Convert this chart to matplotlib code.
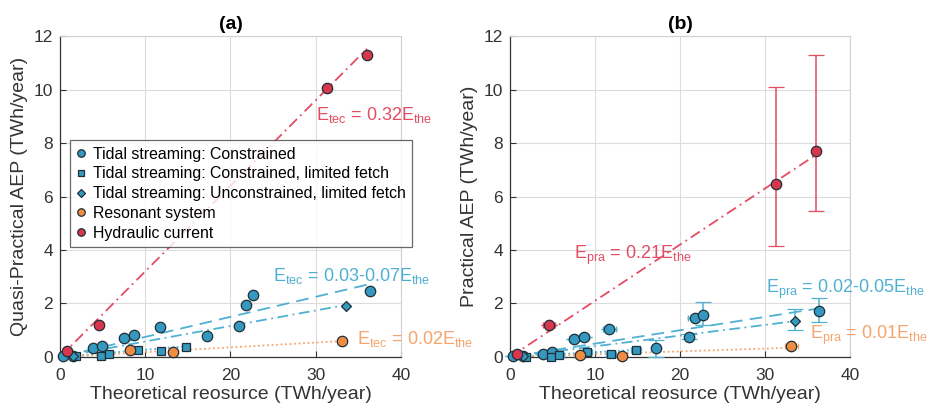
import matplotlib
matplotlib.use("Agg")
import matplotlib.pyplot as plt
import numpy as np

plt.rcParams['font.family'] = ['Liberation Sans', 'DejaVu Sans']
plt.rcParams['mathtext.fontset'] = 'custom'
plt.rcParams['mathtext.rm'] = 'Liberation Sans'
plt.rcParams['mathtext.it'] = 'Liberation Sans:italic'

# ---------------- data ----------------
circ_x = [0.4, 1.5, 3.9, 4.9, 7.5, 8.7, 11.7, 17.2, 21.0, 21.8, 22.7, 36.4]
circ_a = [0.05, 0.05, 0.33, 0.42, 0.70, 0.82, 1.12, 0.77, 1.15, 1.96, 2.32, 2.45]
circ_b = [0.04, 0.02, 0.13, 0.20, 0.67, 0.75, 1.03, 0.32, 0.76, 1.45, 1.57, 1.71]
circ_b_ylo = [0.0, 0.0, 0.0, 0.0, 0.0, 0.0, 0.0, 0.32, 0.1, 0.0, 0.38, 0.41]
circ_b_yhi = [0.0, 0.0, 0.0, 0.0, 0.0, 0.0, 0.0, 0.33, 0.1, 0.0, 0.48, 0.49]
circ_b_xerr = [0.3, 0.3, 0.6, 0.6, 0.6, 0.6, 0.8, 0.0, 0.0, 0.9, 0.0, 0.0]

sq_x = [1.9, 4.8, 5.8, 9.1, 11.9, 14.8]
sq_a = [0.02, 0.02, 0.10, 0.25, 0.21, 0.37]
sq_b = [0.01, 0.00, 0.08, 0.17, 0.13, 0.26]
sq_b_xerr = [0.3, 0.4, 0.5, 0.6, 0.6, 0.6]

dia_x = [1.5, 33.5]
dia_a = [0.03, 1.92]
dia_b = [0.02, 1.36]
dia_b_ylo = [0.0, 0.36]
dia_b_yhi = [0.0, 0.42]

res_x = [8.2, 13.2, 33.1]
res_a = [0.25, 0.20, 0.60]
res_b = [0.07, 0.02, 0.40]
res_b_xerr = [0.5, 0.5, 0.8]

hyd_x = [0.8, 4.6, 31.3, 36.0]
hyd_a = [0.22, 1.20, 10.05, 11.30]
hyd_b = [0.12, 1.18, 6.45, 7.70]
hyd_b_ylo = [0.0, 0.0, 2.30, 2.25]
hyd_b_yhi = [0.0, 0.0, 3.65, 3.60]
hyd_b_xerr = [0.3, 0.7, 0.0, 0.0]

# fit lines: (x_start, x_end, slope)
fits_a = {'hyd': (0.0, 36.0, 0.32), 'dash': (0.5, 36.3, 0.075),
          'dashdot': (0.5, 33.5, 0.058), 'dot': (0.5, 14.8, 0.027),
          'res': (0.5, 33.1, 0.018)}
fits_b = {'hyd': (0.0, 36.0, 0.21), 'dash': (0.5, 36.3, 0.050),
          'dashdot': (0.5, 33.6, 0.040), 'dot': (0.5, 14.8, 0.018),
          'res': (0.5, 33.1, 0.0105)}

legend_labels = ['Tidal streaming: Constrained',
                 'Tidal streaming: Constrained, limited fetch',
                 'Tidal streaming: Unconstrained, limited fetch',
                 'Resonant system', 'Hydraulic current']

# ---------------- style ----------------
C_CY = '#3599bf'
C_OR = '#f08c42'
C_RD = '#d8364c'
L_CY = '#4fb0d2'
L_OR = '#f6a46c'
L_RD = '#e44c64'
EDGE = '#1f2f38'

fig = plt.figure(figsize=(9.29, 4.13), dpi=100)
axA = fig.add_axes([0.0646, 0.1356, 0.367, 0.7772])
axB = fig.add_axes([0.549, 0.1356, 0.366, 0.7772])


def fit_line(ax, f, key, color, ls, lw=1.3):
    x0, x1, s = f[key]
    xs = np.array([x0, x1])
    ax.plot(xs, s * xs, color=color, ls=ls, lw=lw, zorder=2)


def style(ax, title, ylabel):
    ax.set_xlim(0, 40)
    ax.set_ylim(0, 12)
    ax.set_xticks([0, 10, 20, 30, 40])
    ax.set_yticks([0, 2, 4, 6, 8, 10, 12])
    ax.grid(True, color='#dcdcdc', lw=0.8, zorder=0)
    ax.set_axisbelow(True)
    for s in ['top', 'right']:
        ax.spines[s].set_color('#d0d0d0')
    for s in ['left', 'bottom']:
        ax.spines[s].set_color('#333333')
        ax.spines[s].set_linewidth(0.9)
    ax.tick_params(direction='in', length=4, labelsize=12.5, colors='#333333',
                   top=False, right=False)
    ax.tick_params(axis='x', pad=8)
    ax.tick_params(axis='y', pad=5)
    ax.set_title(title, fontsize=14, fontweight='bold', pad=5)
    ax.set_xlabel('Theoretical reosurce (TWh/year)', fontsize=14, color='#333333', labelpad=2)
    ax.set_ylabel(ylabel, fontsize=14, color='#333333', labelpad=4)


ms_c = 7.5
ms_s = 5.5
ms_d = 7

# ---------- panel (a) ----------
fit_line(axA, fits_a, 'hyd', L_RD, (0, (6, 2.5, 1, 2.5)))
fit_line(axA, fits_a, 'dash', L_CY, (0, (7, 4)))
fit_line(axA, fits_a, 'dashdot', L_CY, (0, (6, 2.5, 1, 2.5)))
fit_line(axA, fits_a, 'dot', L_CY, (0, (1, 1.5)))
fit_line(axA, fits_a, 'res', L_OR, (0, (1, 1.5)))

h1, = axA.plot(circ_x, circ_a, 'o', ms=ms_c, mfc=C_CY, mec=EDGE, mew=0.9, ls='none', zorder=4)
h2, = axA.plot(sq_x, sq_a, 's', ms=ms_s, mfc=C_CY, mec=EDGE, mew=0.9, ls='none', zorder=4)
h3, = axA.plot(dia_x, dia_a, 'D', ms=ms_d * 0.75, mfc=C_CY, mec=EDGE, mew=0.9, ls='none', zorder=4)
h4, = axA.plot(res_x, res_a, 'o', ms=ms_c, mfc=C_OR, mec=EDGE, mew=0.9, ls='none', zorder=4)
h5, = axA.plot(hyd_x, hyd_a, 'o', ms=ms_c, mfc=C_RD, mec=EDGE, mew=0.9, ls='none', zorder=4)

axA.text(30.0, 8.85, r'E$_{\mathrm{tec}}$ = 0.32E$_{\mathrm{the}}$', color=L_RD,
         fontsize=13, clip_on=False, zorder=5)
axA.text(25.0, 2.85, r'E$_{\mathrm{tec}}$ = 0.03-0.07E$_{\mathrm{the}}$', color=L_CY,
         fontsize=13, clip_on=False, zorder=5)
axA.text(34.9, 0.50, r'E$_{\mathrm{tec}}$ = 0.02E$_{\mathrm{the}}$', color=L_OR,
         fontsize=13, clip_on=False, zorder=5)

leg = axA.legend([h1, h2, h3, h4, h5], legend_labels, loc='upper left',
                 bbox_to_anchor=(0.03, 0.675, 1.005, 0.0),
                 fontsize=11.4, frameon=True, fancybox=False, handlelength=0.6,
                 handletextpad=0.45, borderpad=0.4, labelspacing=0.3,
                 markerscale=0.72, borderaxespad=0)
leg.get_frame().set_edgecolor('#444444')
leg.get_frame().set_linewidth(0.9)
leg.set_zorder(10)
style(axA, '(a)', 'Quasi-Practical AEP (TWh/year)')

# ---------- panel (b) ----------
fit_line(axB, fits_b, 'hyd', L_RD, (0, (6, 2.5, 1, 2.5)))
fit_line(axB, fits_b, 'dash', L_CY, (0, (7, 4)))
fit_line(axB, fits_b, 'dashdot', L_CY, (0, (6, 2.5, 1, 2.5)))
fit_line(axB, fits_b, 'dot', L_CY, (0, (1, 1.5)))
fit_line(axB, fits_b, 'res', L_OR, (0, (1, 1.5)))

ekw = dict(ls='none', capsize=6, elinewidth=1.1, capthick=1.1, zorder=3)
hkw = dict(ls='none', capsize=2, elinewidth=1.0, capthick=1.0, zorder=3)
axB.errorbar(circ_x, circ_b, xerr=circ_b_xerr, fmt='none', ecolor=L_CY, **hkw)
axB.errorbar(circ_x, circ_b, yerr=[circ_b_ylo, circ_b_yhi],
             fmt='o', ms=ms_c, mfc=C_CY, mec=EDGE, mew=0.9, ecolor=L_CY, **ekw)
axB.errorbar(sq_x, sq_b, xerr=sq_b_xerr, fmt='s', ms=ms_s, mfc=C_CY, mec=EDGE,
             mew=0.9, ecolor=L_CY, **hkw)
axB.errorbar(dia_x, dia_b, yerr=[dia_b_ylo, dia_b_yhi], fmt='D', ms=ms_d * 0.75,
             mfc=C_CY, mec=EDGE, mew=0.9, ecolor=L_CY, **ekw)
axB.errorbar(res_x, res_b, xerr=res_b_xerr, fmt='o', ms=ms_c, mfc=C_OR, mec=EDGE,
             mew=0.9, ecolor=L_OR, **hkw)
axB.errorbar(hyd_x, hyd_b, xerr=hyd_b_xerr, fmt='none', ecolor=L_RD, **hkw)
axB.errorbar(hyd_x, hyd_b, yerr=[hyd_b_ylo, hyd_b_yhi], fmt='o',
             ms=ms_c, mfc=C_RD, mec=EDGE, mew=0.9, ecolor=L_RD, **ekw)

axB.text(7.5, 3.65, r'E$_{\mathrm{pra}}$ = 0.21E$_{\mathrm{the}}$', color=L_RD,
         fontsize=13, clip_on=False, zorder=5)
axB.text(30.1, 2.40, r'E$_{\mathrm{pra}}$ = 0.02-0.05E$_{\mathrm{the}}$', color=L_CY,
         fontsize=13, clip_on=False, zorder=5)
axB.text(35.3, 0.68, r'E$_{\mathrm{pra}}$ = 0.01E$_{\mathrm{the}}$', color=L_OR,
         fontsize=13, clip_on=False, zorder=5)
style(axB, '(b)', 'Practical AEP (TWh/year)')

for ax in (axA, axB):
    for c in ax.get_children():
        if isinstance(c, matplotlib.lines.Line2D):
            c.set_clip_on(False)

fig.savefig('out.png', dpi=100)
